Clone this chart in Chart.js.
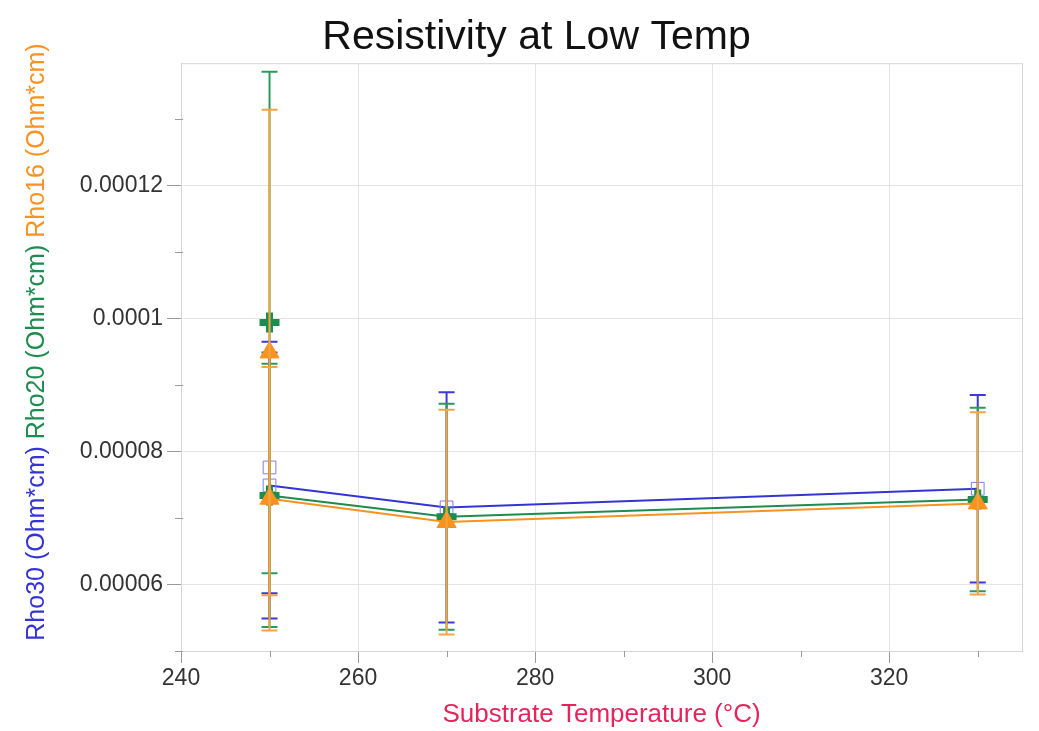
<!DOCTYPE html>
<html>
<head>
<meta charset="utf-8">
<title>Resistivity at Low Temp</title>
<script src="https://cdn.jsdelivr.net/npm/chart.js@4.4.0/dist/chart.umd.min.js"></script>
<style>
  html, body { margin: 0; padding: 0; background: #fff; }
</style>
</head>
<body>
<canvas id="chart" width="1039" height="731"></canvas>
<script>
// substrate temperatures (°C)
const temps = [250, 270, 330];

// resistivity series (Ohm*cm) and their error half-widths
const rho30 = [0.0000749, 0.0000716, 0.0000744];
const rho30Err = [0.0000200, 0.0000173, 0.0000141];
const rho20 = [0.0000734, 0.0000702, 0.0000728];
const rho20Err = [0.0000198, 0.0000170, 0.0000138];
const rho16 = [0.0000729, 0.0000694, 0.0000722];
const rho16Err = [0.0000198, 0.0000169, 0.0000137];

// second measurement at 250 °C (not on the line)
const extraTemps = [250];
const rho30Extra = [0.0000776];
const rho30ExtraErr = [0.0000189];
const rho20Extra = [0.0000994];
const rho20ExtraErr = [0.0000377];
const rho16Extra = [0.0000949];
const rho16ExtraErr = [0.0000365];

// axes
const xTicks = [240, 260, 280, 300, 320];
const xMinorTicks = [250, 270, 290, 310, 330];
const yTicks = [0.00006, 0.00008, 0.0001, 0.00012];
const yTickLabels = ['0.00006', '0.00008', '0.0001', '0.00012'];
const yMinorTicks = [0.00005, 0.00007, 0.00009, 0.00011, 0.00013];
const yTitleTexts = ['Rho30 (Ohm*cm)', 'Rho20 (Ohm*cm)', 'Rho16 (Ohm*cm)'];

const FONT = "'Liberation Sans', Arial, sans-serif";
const BLUE = '#3434d6';
const GREEN = '#1d8c4f';
const ORANGE = '#f7931e';
const yTitleColors = [BLUE, GREEN, ORANGE];

const toPoints = (xs, ys) => xs.map((x, i) => ({ x: x, y: ys[i] }));

// error bars, drawn right after their own dataset
const errorBars = {
    id: 'errorBars',
    afterDatasetDraw(chart, args) {
        const ds = chart.data.datasets[args.index];
        if (!ds.errors) return;
        const ctx = chart.ctx;
        const yScale = chart.scales.y;
        ctx.save();
        ctx.strokeStyle = ds.errorColor;
        ctx.lineWidth = 2;
        args.meta.data.forEach((pt, i) => {
            const v = ds.data[i].y;
            const top = yScale.getPixelForValue(v + ds.errors[i]);
            const bot = yScale.getPixelForValue(v - ds.errors[i]);
            ctx.beginPath();
            ctx.moveTo(pt.x, top);
            ctx.lineTo(pt.x, bot);
            ctx.moveTo(pt.x - 8, top);
            ctx.lineTo(pt.x + 8, top);
            ctx.moveTo(pt.x - 8, bot);
            ctx.lineTo(pt.x + 8, bot);
            ctx.stroke();
        });
        ctx.restore();
    }
};

// plot frame, minor ticks, coloured y title
const frame = {
    id: 'frame',
    beforeDatasetsDraw(chart) {
        const { ctx, chartArea: a, scales } = chart;
        ctx.save();
        ctx.strokeStyle = '#d6d6d6';
        ctx.lineWidth = 1;
        ctx.strokeRect(a.left + 0.5, a.top + 0.5, a.right - a.left, a.bottom - a.top);
        ctx.strokeStyle = '#9a9a9a';
        ctx.beginPath();
        xMinorTicks.forEach(v => {
            const x = Math.round(scales.x.getPixelForValue(v)) + 0.5;
            ctx.moveTo(x, a.bottom);
            ctx.lineTo(x, a.bottom + 6);
        });
        yMinorTicks.forEach(v => {
            const y = Math.round(scales.y.getPixelForValue(v)) + 0.5;
            ctx.moveTo(a.left - 6, y);
            ctx.lineTo(a.left + 2, y);
        });
        ctx.stroke();
        ctx.restore();
    },
    afterDraw(chart) {
        const ctx = chart.ctx;
        ctx.save();
        ctx.font = '25px ' + FONT;
        ctx.textBaseline = 'middle';
        ctx.textAlign = 'left';
        const space = ctx.measureText(' ').width;
        const widths = yTitleTexts.map(t => ctx.measureText(t).width);
        const total = widths.reduce((s, w) => s + w, 0) + space * (yTitleTexts.length - 1);
        ctx.translate(37, 342);
        ctx.rotate(-Math.PI / 2);
        let x = -total / 2;
        yTitleTexts.forEach((t, i) => {
            ctx.fillStyle = yTitleColors[i];
            ctx.fillText(t, x, 0);
            x += widths[i] + space;
        });
        ctx.restore();
    }
};

new Chart(document.getElementById('chart'), {
    type: 'line',
    data: {
        datasets: [
            {
                label: 'Rho30 (Ohm*cm)',
                data: toPoints(temps, rho30),
                errors: rho30Err,
                errorColor: '#3a3ad8',
                borderColor: BLUE,
                borderWidth: 2,
                pointStyle: 'rect',
                pointRadius: 9,
                pointBorderWidth: 1,
                pointBorderColor: '#7d7de6',
                pointBackgroundColor: 'rgba(0,0,0,0)',
                order: 6
            },
            {
                label: 'Rho30 (Ohm*cm) 2',
                data: toPoints(extraTemps, rho30Extra),
                errors: rho30ExtraErr,
                errorColor: '#3a3ad8',
                showLine: false,
                pointStyle: 'rect',
                pointRadius: 9,
                pointBorderWidth: 1,
                pointBorderColor: '#7d7de6',
                pointBackgroundColor: 'rgba(0,0,0,0)',
                order: 5
            },
            {
                label: 'Rho20 (Ohm*cm)',
                data: toPoints(temps, rho20),
                errors: rho20Err,
                errorColor: '#2a9a5c',
                borderColor: GREEN,
                borderWidth: 2,
                pointStyle: 'cross',
                pointRadius: 10,
                pointBorderWidth: 7,
                pointBorderColor: GREEN,
                pointBackgroundColor: GREEN,
                order: 4
            },
            {
                label: 'Rho20 (Ohm*cm) 2',
                data: toPoints(extraTemps, rho20Extra),
                errors: rho20ExtraErr,
                errorColor: '#2a9a5c',
                showLine: false,
                pointStyle: 'cross',
                pointRadius: 10,
                pointBorderWidth: 7,
                pointBorderColor: GREEN,
                pointBackgroundColor: GREEN,
                order: 3
            },
            {
                label: 'Rho16 (Ohm*cm)',
                data: toPoints(temps, rho16),
                errors: rho16Err,
                errorColor: '#f6a443',
                borderColor: ORANGE,
                borderWidth: 2,
                pointStyle: 'triangle',
                pointRadius: 11,
                pointBorderWidth: 1,
                pointBorderColor: ORANGE,
                pointBackgroundColor: ORANGE,
                order: 2
            },
            {
                label: 'Rho16 (Ohm*cm) 2',
                data: toPoints(extraTemps, rho16Extra),
                errors: rho16ExtraErr,
                errorColor: '#f6a443',
                showLine: false,
                pointStyle: 'triangle',
                pointRadius: 11,
                pointBorderWidth: 1,
                pointBorderColor: ORANGE,
                pointBackgroundColor: ORANGE,
                order: 1
            }
        ]
    },
    options: {
        responsive: false,
        animation: false,
        layout: { padding: { left: 48, right: 14, top: 0, bottom: 0 } },
        plugins: {
            legend: { display: false },
            tooltip: { enabled: false },
            title: {
                display: true,
                text: 'Resistivity at Low Temp',
                color: '#111',
                font: { family: FONT, size: 41, weight: 'normal' },
                padding: { top: 13, bottom: 1 }
            }
        },
        scales: {
            x: {
                type: 'linear',
                min: 240,
                max: 335,
                afterBuildTicks: s => { s.ticks = xTicks.map(v => ({ value: v })); },
                afterFit: s => { s.height = 80; },
                ticks: {
                    color: '#333',
                    font: { family: FONT, size: 23 },
                    padding: 2,
                    maxRotation: 0,
                    callback: v => String(v)
                },
                grid: { color: '#e4e4e4', tickColor: '#9a9a9a', tickLength: 12 },
                border: { color: '#c4c4c4' },
                title: {
                    display: true,
                    text: 'Substrate Temperature (°C)',
                    color: '#e6245c',
                    font: { family: FONT, size: 26 },
                    padding: { top: 0, bottom: 1 }
                }
            },
            y: {
                type: 'linear',
                min: 0.00005,
                max: 0.0001384,
                afterBuildTicks: s => { s.ticks = yTicks.map(v => ({ value: v })); },
                afterFit: s => { s.width = 133; },
                ticks: {
                    color: '#333',
                    font: { family: FONT, size: 23 },
                    padding: 4,
                    callback: (v, i) => yTickLabels[i]
                },
                grid: { color: '#e4e4e4', tickColor: '#9a9a9a', tickLength: 14 },
                border: { color: '#c4c4c4' }
            }
        }
    },
    plugins: [errorBars, frame]
});
</script>
</body>
</html>
